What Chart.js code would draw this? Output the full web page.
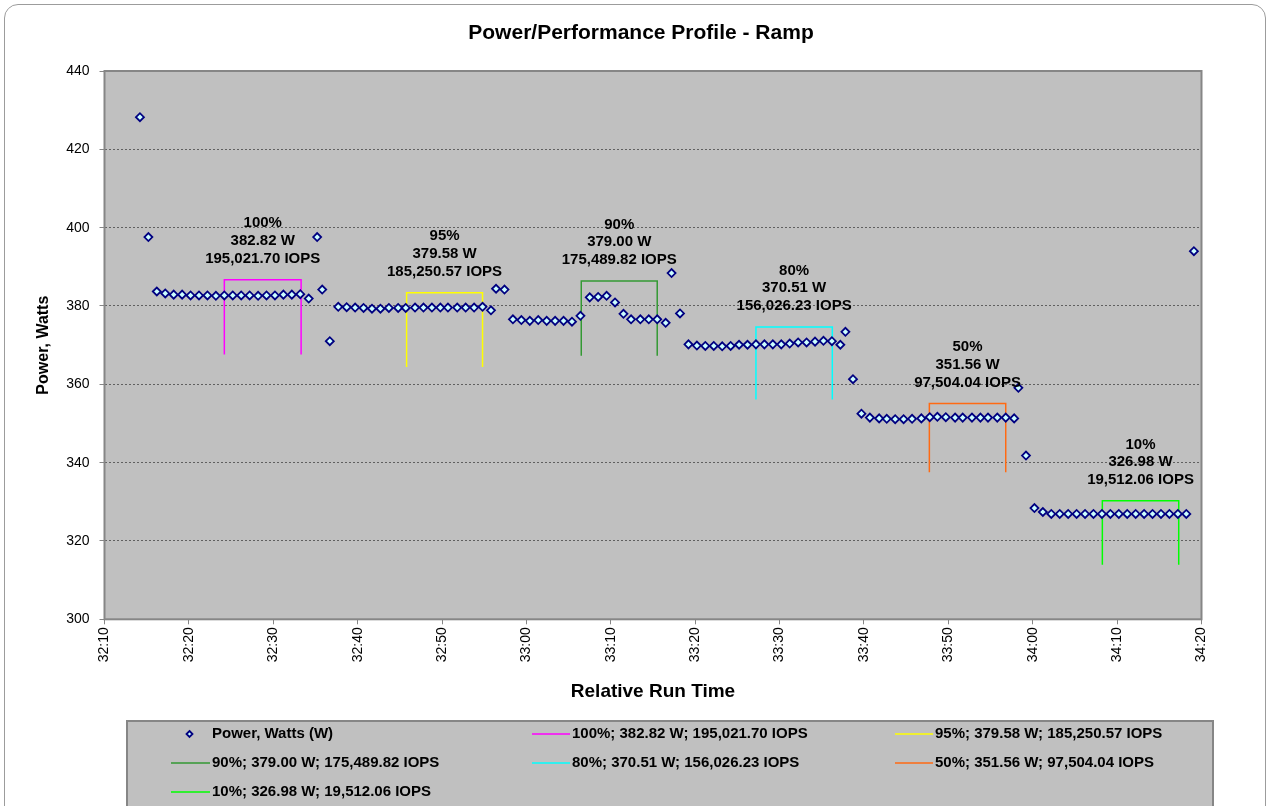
<!DOCTYPE html>
<html>
<head>
<meta charset="utf-8">
<script src="https://cdn.jsdelivr.net/npm/chart.js@4.4.0/dist/chart.umd.min.js"></script>
<style>
html,body{margin:0;padding:0;background:#fff;overflow:hidden;}
#wrap{position:relative;width:1270px;height:806px;overflow:hidden;}
#frame{position:absolute;left:4px;top:4px;width:1262px;height:840px;border:1px solid #9c9c9c;border-radius:14px;box-sizing:border-box;pointer-events:none;}
canvas{position:absolute;left:0;top:0;}
</style>
</head>
<body>
<div id="wrap"><canvas id="c" width="1270" height="806"></canvas><div id="frame"></div></div>
<script>
// ---------- DATA ----------
const chartTitle = 'Power/Performance Profile - Ramp';
const xAxisTitle = 'Relative Run Time';
const yAxisTitle = 'Power, Watts';
const powerSeriesName = 'Power, Watts (W)';

// run time in seconds (32:10 = 1930 s)
const runTimeSec = [
  1934.2,1935.2,1936.2,1937.2,1938.2,1939.2,1940.2,1941.2,1942.2,1943.2,
  1944.2,1945.2,1946.2,1947.2,1948.2,1949.2,1950.2,1951.2,1952.2,1953.2,
  1954.2,1955.2,1955.8,1956.7,1957.7,1958.7,1959.7,1960.7,1961.7,1962.7,
  1963.7,1964.8,1965.7,1966.8,1967.8,1968.8,1969.8,1970.7,1971.8,1972.8,
  1973.8,1974.8,1975.8,1976.4,1977.4,1978.4,1979.4,1980.4,1981.4,1982.4,
  1983.4,1984.4,1985.4,1986.4,1987.5,1988.5,1989.5,1990.5,1991.5,1992.4,
  1993.5,1994.5,1995.5,1996.5,1997.2,1998.2,1999.2,2000.2,2001.2,2002.2,
  2003.2,2004.2,2005.2,2006.2,2007.2,2008.2,2009.2,2010.2,2011.2,2012.2,
  2013.2,2014.2,2015.2,2016.2,2017.2,2017.8,2018.7,2019.7,2020.7,2021.8,
  2022.7,2023.7,2024.7,2025.7,2026.8,2027.8,2028.7,2029.7,2030.8,2031.7,
  2032.8,2033.8,2034.7,2035.8,2036.8,2037.8,2038.3,2039.2,2040.2,2041.2,
  2042.2,2043.2,2044.2,2045.2,2046.2,2047.2,2048.2,2049.2,2050.2,2051.2,
  2052.2,2053.2,2054.2,2055.2,2056.2,2057.2,2058.2,2059.1
];
const powerWatts = [
  428.2,397.6,383.7,383.2,382.9,382.9,382.7,382.7,382.7,382.6,
  382.7,382.7,382.7,382.7,382.6,382.7,382.7,382.9,382.9,383.0,
  381.9,397.6,384.2,371.0,379.8,379.7,379.6,379.5,379.3,379.3,
  379.5,379.5,379.5,379.6,379.6,379.6,379.6,379.6,379.6,379.6,
  379.6,379.8,378.9,384.4,384.2,376.6,376.4,376.2,376.4,376.2,
  376.2,376.2,376.0,377.5,382.2,382.3,382.6,380.9,378.0,376.6,
  376.6,376.6,376.6,375.7,388.4,378.1,370.2,369.9,369.8,369.8,
  369.7,369.8,370.1,370.1,370.2,370.2,370.2,370.2,370.4,370.7,
  370.7,370.9,371.1,371.0,370.1,373.4,361.3,352.5,351.5,351.3,
  351.2,351.1,351.1,351.2,351.3,351.6,351.7,351.6,351.5,351.5,
  351.5,351.5,351.5,351.5,351.5,351.3,359.1,341.8,328.4,327.4,
  326.9,326.9,326.9,326.9,326.9,326.9,326.9,326.9,326.9,326.9,
  326.9,326.9,326.9,326.9,326.9,326.9,326.9,394.0
];

// load levels (brackets)
const levelNames  = ['100%','95%','90%','80%','50%','10%'];
const levelWatts  = ['382.82','379.58','379.00','370.51','351.56','326.98'];
const levelIops   = ['195,021.70','185,250.57','175,489.82','156,026.23','97,504.04','19,512.06'];
const levelStart  = [1944.2, 1965.8, 1986.5, 2007.2, 2027.75, 2048.25];
const levelEnd    = [1953.3, 1974.8, 1995.5, 2016.25, 2036.8, 2057.3];
const levelTop    = [386.7, 383.4, 386.4, 374.65, 355.1, 330.25];
const levelBottom = [367.6, 364.4, 367.3, 356.1, 337.55, 313.9];

// axis ticks
const xTickValues = [1930,1940,1950,1960,1970,1980,1990,2000,2010,2020,2030,2040,2050,2060];
const xTickLabels = ['32:10','32:20','32:30','32:40','32:50','33:00','33:10','33:20','33:30','33:40','33:50','34:00','34:10','34:20'];
const yTickValues = [300,320,340,360,380,400,420,440];
const yTickLabels = ['300','320','340','360','380','400','420','440'];

// ---------- STYLE ----------
const FONT = '"Liberation Sans", Arial, Helvetica, sans-serif';
const levelColors = ['#FF00FF','#FFFF00','#339933','#00FFFF','#FF6A13','#00FF00'];

const powerDataset = {
  label: powerSeriesName,
  data: runTimeSec.map((t, i) => ({x: t, y: powerWatts[i]})),
  showLine: false,
  pointStyle: 'rectRot',
  pointRadius: 4,
  pointBorderWidth: 1.8,
  borderColor: '#000080',
  backgroundColor: '#CCFFFF',
  order: 0
};
const levelDatasets = levelNames.map((n, i) => ({
  label: n + '; ' + levelWatts[i] + ' W; ' + levelIops[i] + ' IOPS',
  data: [
    {x: levelStart[i], y: levelBottom[i]},
    {x: levelStart[i], y: levelTop[i]},
    {x: levelEnd[i], y: levelTop[i]},
    {x: levelEnd[i], y: levelBottom[i]}
  ],
  showLine: true,
  borderColor: levelColors[i],
  backgroundColor: levelColors[i],
  borderWidth: 1.5,
  pointRadius: 0,
  fill: false,
  tension: 0,
  order: 1
}));

const bgPlugin = {
  id: 'bg',
  beforeDraw(chart) {
    const {ctx, chartArea: a} = chart;
    ctx.save();
    ctx.fillStyle = '#fff';
    ctx.fillRect(0, 0, chart.width, chart.height);
    ctx.fillStyle = '#C0C0C0';
    ctx.fillRect(a.left, a.top, a.right - a.left, a.bottom - a.top);
    ctx.restore();
  },
  afterDraw(chart) {
    const {ctx, chartArea: a} = chart;
    ctx.save();
    ctx.strokeStyle = '#868686';
    ctx.lineWidth = 2;
    ctx.strokeRect(a.left, a.top, a.right - a.left, a.bottom - a.top);
    ctx.fillStyle = '#000';
    ctx.font = 'bold 21px ' + FONT;
    ctx.textAlign = 'center';
    ctx.textBaseline = 'middle';
    ctx.fillText(chartTitle, 641, 33);
    ctx.restore();
  }
};

const labelPlugin = {
  id: 'levelLabels',
  afterDatasetsDraw(chart) {
    const {ctx} = chart;
    const xs = chart.scales.x, ys = chart.scales.y;
    ctx.save();
    ctx.fillStyle = '#000';
    ctx.font = 'bold 15px ' + FONT;
    ctx.textAlign = 'center';
    ctx.textBaseline = 'middle';
    levelNames.forEach((n, i) => {
      const cx = xs.getPixelForValue((levelStart[i] + levelEnd[i]) / 2);
      const ty = ys.getPixelForValue(levelTop[i]);
      const lines = [n, levelWatts[i] + ' W', levelIops[i] + ' IOPS'];
      lines.forEach((l, k) => {
        ctx.fillText(l, cx, ty - 21 - (2 - k) * 17.7);
      });
    });
    ctx.restore();
  }
};

const legendPlugin = {
  id: 'gridLegend',
  afterDraw(chart) {
    const {ctx} = chart;
    ctx.save();
    ctx.fillStyle = '#C0C0C0';
    ctx.fillRect(127, 721, 1086, 120);
    ctx.strokeStyle = '#868686';
    ctx.lineWidth = 2;
    ctx.strokeRect(127, 721, 1086, 120);
    const colText = [212, 572, 935];
    const lineFrom = [171, 532, 895];
    const rowY = [734, 763, 792];
    ctx.font = 'bold 15px ' + FONT;
    ctx.textBaseline = 'middle';
    ctx.textAlign = 'left';
    chart.data.datasets.forEach((ds, i) => {
      const c = i % 3;
      const tx = colText[c], ty = rowY[Math.floor(i / 3)];
      if (i === 0) {
        const cx = 189.5, r = 3;
        ctx.beginPath();
        ctx.moveTo(cx, ty - r); ctx.lineTo(cx + r, ty); ctx.lineTo(cx, ty + r); ctx.lineTo(cx - r, ty); ctx.closePath();
        ctx.fillStyle = ds.backgroundColor; ctx.fill();
        ctx.strokeStyle = ds.borderColor; ctx.lineWidth = 1.8; ctx.stroke();
      } else {
        ctx.beginPath();
        ctx.moveTo(lineFrom[c], ty); ctx.lineTo(tx - 2, ty);
        ctx.strokeStyle = ds.borderColor; ctx.lineWidth = 1.5; ctx.stroke();
      }
      ctx.fillStyle = '#000';
      ctx.fillText(ds.label, tx, ty);
    });
    ctx.restore();
  }
};

new Chart(document.getElementById('c'), {
  type: 'scatter',
  data: { datasets: [powerDataset, ...levelDatasets] },
  options: {
    responsive: false,
    animation: false,
    devicePixelRatio: 1,
    layout: { padding: { left: 0, right: 68.5, top: 71, bottom: 100.7 } },
    plugins: { legend: { display: false }, tooltip: { enabled: false }, title: { display: false } },
    scales: {
      x: {
        type: 'linear', min: 1930, max: 2060,
        afterBuildTicks: s => { s.ticks = xTickValues.map(v => ({value: v})); },
        afterFit: s => { s.height = 86; },
        ticks: {
          callback: (v, i) => xTickLabels[i],
          minRotation: 90, maxRotation: 90, autoSkip: false,
          color: '#000', padding: 3, font: { family: FONT, size: 14 }
        },
        grid: { drawOnChartArea: false, drawTicks: true, tickLength: 5, tickColor: '#868686', color: '#868686' },
        border: { display: false },
        title: { display: true, text: xAxisTitle, color: '#000', font: { family: FONT, size: 19, weight: 'bold' }, padding: { top: 0, bottom: 2 } }
      },
      y: {
        type: 'linear', min: 300, max: 440,
        afterBuildTicks: s => { s.ticks = yTickValues.map(v => ({value: v})); },
        afterFit: s => { s.width = 104.5; },
        ticks: {
          callback: (v, i) => yTickLabels[i],
          color: '#000', padding: 10, font: { family: FONT, size: 14 }
        },
        grid: { color: '#606060', lineWidth: 1, drawTicks: true, tickLength: 5, tickColor: '#868686', tickBorderDash: [] },
        border: { display: false, dash: [2, 2] },
        title: { display: true, text: yAxisTitle, color: '#000', font: { family: FONT, size: 16, weight: 'bold' }, padding: { top: 34, bottom: 0 } }
      }
    }
  },
  plugins: [bgPlugin, labelPlugin, legendPlugin]
});
</script>
</body>
</html>
